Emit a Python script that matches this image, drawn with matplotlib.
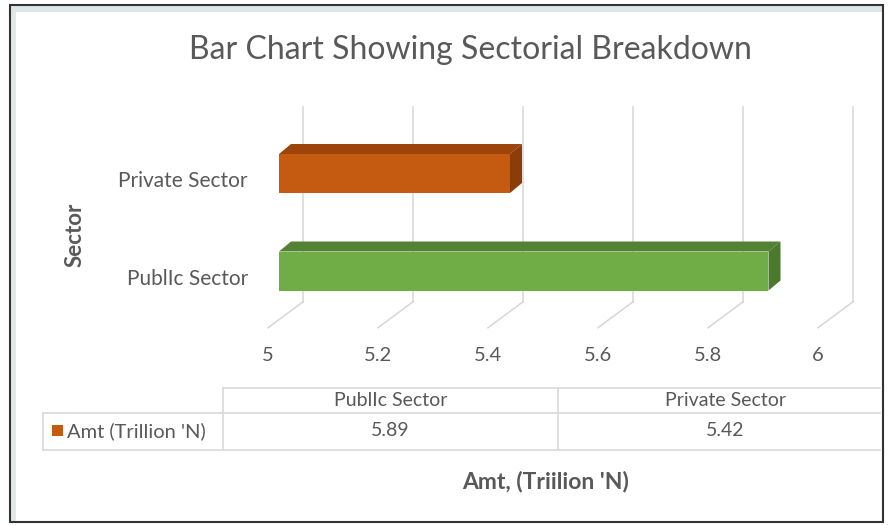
import matplotlib
matplotlib.use("Agg")
import matplotlib.pyplot as plt
from matplotlib.patches import Polygon, Rectangle
from matplotlib.lines import Line2D

# ---------------- data ----------------
categories = ["PublIc Sector", "Private Sector"]
values = [5.89, 5.42]
bar_colors = ["#70AD47", "#C55A11"]
top_colors = ["#548235", "#9C4409"]
side_colors = ["#4B7A2C", "#8A3D08"]
x_ticks = [5, 5.2, 5.4, 5.6, 5.8, 6]
x_min, x_max = 5.0, 6.0
series_name = "Amt (Trillion 'N)"
title = "Bar Chart Showing Sectorial Breakdown"
y_title = "Sector"
x_title = "Amt, (Triilion 'N)"

W, H = 888, 525
plt.rcParams['font.family'] = ['Lato', 'DejaVu Sans']
fig = plt.figure(figsize=(W / 100, H / 100), dpi=100)

def fx(px):
    return px / W

def fy(py):
    return 1 - py / H

# axes: front face of bars
left_px, right_px = 279, 829
top_px, bot_px = 124.75, 319.75
ax = fig.add_axes([fx(left_px), fy(bot_px), fx(right_px - left_px), (bot_px - top_px) / H])
ax.set_xlim(x_min, x_max)
ax.set_ylim(-0.5, len(categories) - 0.5)
ax.axis("off")

ux = (x_max - x_min) / (right_px - left_px)   # data per pixel
uy = (len(categories)) / (bot_px - top_px)

# depth offsets (pixels)
back_dx, back_dy = 24, 18
front_dx, front_dy = -11, -8
bar_dx, bar_dy = 12, 10

grid_c = "#D9D9D9"
txt_c = "#595959"
y0, y1 = -0.5, len(categories) - 0.5
for t in x_ticks:
    ax.add_line(Line2D([t + back_dx * ux, t + back_dx * ux],
                       [y0 + back_dy * uy, y1 + back_dy * uy],
                       color=grid_c, lw=1.2, clip_on=False, zorder=1))
    ax.add_line(Line2D([t + front_dx * ux, t + back_dx * ux],
                       [y0 + front_dy * uy, y0 + back_dy * uy],
                       color=grid_c, lw=1.2, clip_on=False, zorder=1))
    ax.text(t + front_dx * ux, y0 + front_dy * uy - 0.28, f"{t:g}",
            ha="center", va="center", fontsize=14.5, color=txt_c)

h = 0.4
ypos = list(range(len(categories)))
ax.barh(ypos, [v - x_min for v in values], left=x_min, height=h,
        color=bar_colors, zorder=3, clip_on=False)
for y, v, tc, sc in zip(ypos, values, top_colors, side_colors):
    top = [(x_min, y + h / 2), (v, y + h / 2),
           (v + bar_dx * ux, y + h / 2 + bar_dy * uy), (x_min + bar_dx * ux, y + h / 2 + bar_dy * uy)]
    side = [(v, y - h / 2), (v, y + h / 2),
            (v + bar_dx * ux, y + h / 2 + bar_dy * uy), (v + bar_dx * ux, y - h / 2 + bar_dy * uy)]
    ax.add_patch(Polygon(top, closed=True, facecolor=tc, edgecolor="none", zorder=3, clip_on=False))
    ax.add_patch(Polygon(side, closed=True, facecolor=sc, edgecolor="none", zorder=3, clip_on=False))

for y, c in zip(ypos, categories):
    ax.text(x_min - 31 * ux, y - 0.08, c, ha="right", va="center",
            fontsize=15, color=txt_c)

# titles
fig.text(fx(470), fy(50), title, ha="center", va="center", fontsize=23, color=txt_c)
fig.text(fx(75), fy(235), y_title, ha="center", va="center", rotation=90,
         fontsize=16, fontweight="bold", color=txt_c)
fig.text(fx(546), fy(482), x_title, ha="center", va="center",
         fontsize=16.5, fontweight="bold", color=txt_c)

# data table
tc_ = "#D9D9D9"
def hline(x0, x1, y):
    fig.add_artist(Line2D([fx(x0), fx(x1)], [fy(y), fy(y)], color=tc_, lw=1.2))
def vline(x, ya, yb):
    fig.add_artist(Line2D([fx(x), fx(x)], [fy(ya), fy(yb)], color=tc_, lw=1.2))

col_edges = [223, 558, 893]
hline(223, 880, 388)
hline(43, 880, 413)
hline(43, 880, 450)
vline(43, 413, 450)
vline(223, 388, 450)
vline(558, 388, 450)
for i, (c, v) in enumerate(zip(categories, values)):
    cx = (col_edges[i] + min(col_edges[i + 1], 898)) / 2
    fig.text(fx(cx), fy(401), c, ha="center", va="center", fontsize=14, color=txt_c)
    fig.text(fx(cx), fy(431), f"{v:.2f}", ha="center", va="center", fontsize=14, color=txt_c)
fig.add_artist(Rectangle((fx(52), fy(436)), fx(11), 11 / H, facecolor=bar_colors[1], edgecolor="none"))
fig.text(fx(67), fy(431), series_name, ha="left", va="center", fontsize=14.5, color=txt_c)

# outer frame
fig.add_artist(Rectangle((fx(11), fy(12)), fx(871), 6 / H, facecolor="#DDE6E6", edgecolor="none"))
fig.add_artist(Rectangle((fx(11), fy(521)), fx(5), 509 / H, facecolor="#E2E8E8", edgecolor="none"))
fig.add_artist(Rectangle((fx(10), fy(522)), fx(873), 517 / H, facecolor="none",
                         edgecolor="#333333", lw=1.5))

fig.savefig("out.png", dpi=100)
